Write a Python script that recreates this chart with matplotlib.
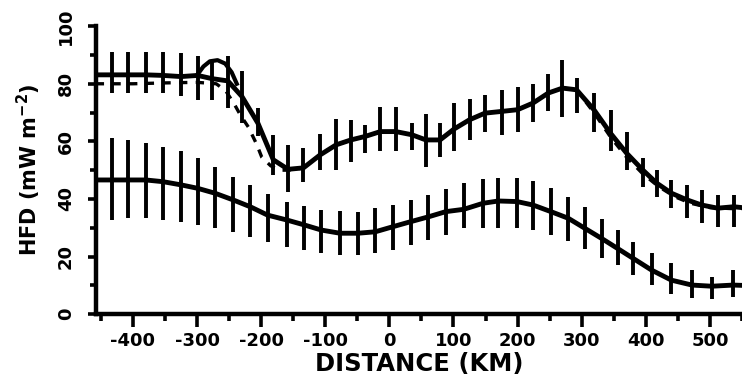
import matplotlib
matplotlib.use("Agg")
import matplotlib.pyplot as plt
from matplotlib.ticker import MultipleLocator

# upper profile: bin centres (km), mean HFD and the ends of each error bar
upper_x = [-433, -407, -380, -353, -325, -299, -277, -252, -230, -205, -181,
           -158, -134, -108, -83, -60, -38, -14, 10, 35, 57, 79, 101, 125,
           149, 175, 200, 224, 248, 270, 292, 319, 345, 370, 395, 417, 440,
           464, 487, 512, 537]
upper_mid = [83.1, 83.1, 83.1, 82.9, 82.5, 82.9, 81.8, 81.0, 75.6, 66.3, 53.6,
             50.3, 50.8, 55.3, 58.8, 60.5, 61.7, 63.4, 63.4, 62.3, 60.5, 60.5,
             64.3, 67.5, 69.8, 70.4, 71.0, 73.3, 76.8, 78.5, 77.9, 71.0, 62.8,
             55.9, 50.1, 45.5, 42.0, 39.7, 37.9, 36.8, 37.3]
upper_hi = [91.2, 91.2, 91.2, 91.2, 90.7, 89.5, 88.3, 89.5, 84.3, 71.5, 62.3,
            58.8, 57.6, 62.6, 67.7, 67.5, 65.7, 71.8, 71.8, 66.5, 69.6, 66.3,
            73.3, 74.7, 76.2, 77.7, 78.8, 80.0, 83.5, 88.3, 82.0, 76.8, 71.0,
            63.4, 54.2, 49.9, 46.6, 44.9, 43.1, 41.4, 41.4]
upper_lo = [76.8, 76.8, 76.8, 76.8, 75.6, 74.4, 74.4, 71.5, 66.3, 61.7, 48.3,
            42.5, 46.0, 50.1, 50.1, 53.0, 55.9, 56.5, 56.5, 57.0, 51.2, 54.7,
            56.5, 60.5, 63.4, 62.3, 63.1, 66.9, 70.4, 68.6, 69.8, 63.4, 56.5,
            50.1, 44.3, 40.8, 36.8, 33.3, 31.5, 30.4, 30.4]

# lower profile
lower_x = [-433, -407, -380, -353, -325, -299, -272, -244, -217, -190, -160,
           -133, -106, -77, -49, -22, 6, 33, 61, 88, 116, 146, 170, 199, 224,
           252, 279, 305, 331, 356, 380, 409, 440, 472, 503, 536]
lower_mid = [46.6, 46.6, 46.6, 46.0, 44.9, 43.7, 42.0, 39.7, 37.3, 34.4, 32.7,
             31.0, 29.2, 28.1, 28.1, 28.6, 30.4, 32.1, 33.8, 35.6, 36.4, 38.5,
             39.3, 39.1, 37.9, 35.6, 33.3, 29.8, 26.3, 22.8, 19.4, 15.3, 11.8,
             10.1, 9.7, 10.1]
lower_hi = [61.1, 60.5, 59.4, 58.2, 56.5, 54.2, 51.2, 47.8, 44.9, 41.7, 39.1,
            37.6, 36.2, 35.9, 35.6, 36.8, 37.9, 39.7, 41.4, 43.4, 45.7, 47.0,
            47.4, 47.2, 46.3, 43.7, 40.8, 37.1, 33.0, 29.2, 25.2, 21.1, 17.6,
            15.3, 13.0, 15.3]
lower_lo = [32.7, 33.3, 33.3, 32.7, 32.1, 31.0, 29.8, 28.6, 26.9, 25.2, 23.4,
            22.3, 21.1, 20.5, 20.5, 21.1, 22.3, 24.0, 25.7, 27.5, 29.8, 29.8,
            30.0, 29.8, 29.2, 27.5, 25.5, 22.5, 19.4, 17.0, 13.6, 10.1, 7.0,
            5.5, 5.1, 6.0]

# values where the curves meet the plot edges
edge_x = [-458, 550]
upper_edge = [83.1, 37.0]
lower_edge = [46.6, 10.0]

# dashed model curve along the upper profile
model_x = [-458, -400, -350, -300, -270, -255, -242, -232, -220, -207, -199,
           -185, -170, -158, -134, -108, -83, -60, -38, -14, 10, 35, 57, 79,
           101, 125, 149, 175, 200, 224, 248, 270, 292, 319, 345, 370, 395,
           420, 445, 470, 500, 550]
model_y = [80.0, 80.0, 80.3, 80.5, 80.0, 77.5, 73.0, 69.0, 65.0, 59.0, 54.5,
           51.5, 50.0, 50.0, 50.8, 55.3, 58.8, 60.5, 61.7, 63.4, 63.4, 62.3,
           60.5, 60.5, 64.3, 67.5, 69.8, 70.4, 71.0, 73.3, 76.8, 78.5, 77.9,
           70.0, 61.5, 54.5, 48.8, 44.3, 40.8, 38.5, 37.0, 36.5]

# short arc above the upper profile near -270 km
arc_x = [-300, -290, -280, -268, -256, -246, -238]
arc_y = [83.0, 86.0, 87.8, 88.2, 87.0, 84.0, 80.0]

fig = plt.figure(figsize=(7.42, 3.85), dpi=100)
ax = fig.add_axes([0.129, 0.184, 0.871, 0.748])

for xs, mid, lo, hi, edge in [
    (upper_x, upper_mid, upper_lo, upper_hi, upper_edge),
    (lower_x, lower_mid, lower_lo, lower_hi, lower_edge),
]:
    ax.vlines(xs, lo, hi, color="black", lw=2.8)
    ax.plot([edge_x[0]] + xs + [edge_x[1]], [edge[0]] + mid + [edge[1]],
            color="black", lw=3.5, solid_capstyle="round")

ax.plot(model_x, model_y, color="black", lw=2.4, ls=(0, (2.5, 2.5)))
ax.plot(arc_x, arc_y, color="black", lw=3.0)

ax.set_xlim(-458, 550)
ax.set_ylim(0, 100)

for side in ("top", "right"):
    ax.spines[side].set_visible(False)
for side in ("left", "bottom"):
    ax.spines[side].set_linewidth(3.2)

ax.xaxis.set_major_locator(MultipleLocator(100))
ax.xaxis.set_minor_locator(MultipleLocator(50))
ax.yaxis.set_major_locator(MultipleLocator(20))
ax.yaxis.set_minor_locator(MultipleLocator(10))
ax.tick_params(axis="x", which="major", length=9, width=2.6, pad=4)
ax.tick_params(axis="x", which="minor", length=5, width=2.6)
ax.tick_params(axis="y", which="major", length=6, width=2.6, pad=9)
ax.tick_params(axis="y", which="minor", length=4, width=2.6)

xticks = [-400, -300, -200, -100, 0, 100, 200, 300, 400, 500]
ax.set_xticks(xticks)
ax.set_xticklabels([str(v) for v in xticks], fontsize=13, fontweight="heavy")
yticks = [0, 20, 40, 60, 80, 100]
ax.set_yticks(yticks)
ax.set_yticklabels([str(v) for v in yticks], fontsize=13, fontweight="heavy",
                   rotation=90, va="center")

ax.set_xlabel("DISTANCE (KM)", fontsize=17.5, fontweight="bold", labelpad=1)
ax.set_ylabel(r"HFD (mW m$^{\mathbf{-2}}$)", fontsize=15, fontweight="bold",
              labelpad=10)

fig.savefig("out.png", dpi=100)
